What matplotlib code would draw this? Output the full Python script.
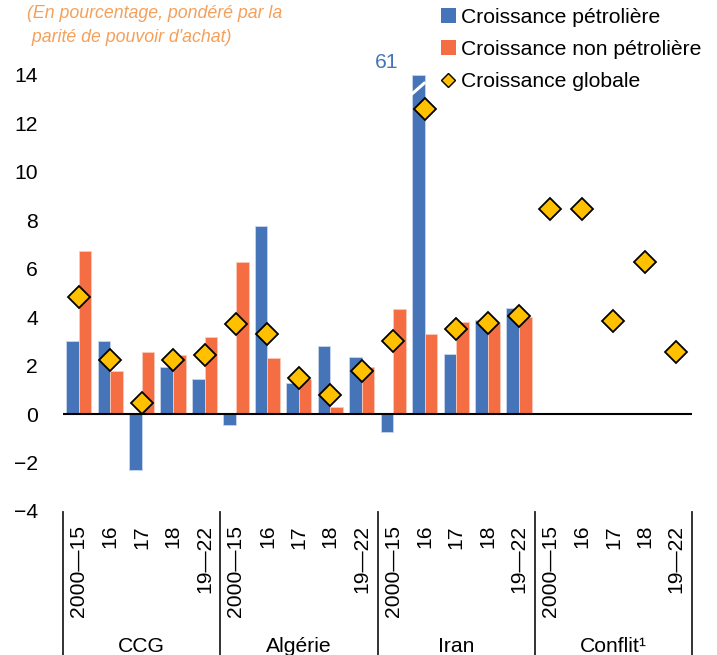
import matplotlib
matplotlib.use("Agg")
import matplotlib.pyplot as plt
from matplotlib.lines import Line2D
from matplotlib.patches import Patch
import matplotlib.transforms as mtransforms

plt.rcParams['font.family'] = ['Liberation Sans', 'DejaVu Sans']

groups = ["CCG", "Algérie", "Iran", "Conflit¹"]
periods = ["2000—15", "16", "17", "18", "19—22"]

oil = [3.0, 3.0, -2.3, 1.96, 1.43,
       -0.47, 7.75, 1.28, 2.8, 2.35,
       -0.75, 61.0, 2.5, 3.9, 4.39,
       None, None, None, None, None]
nonoil = [6.75, 1.79, 2.57, 2.42, 3.2,
          6.3, 2.33, 1.46, 0.29, 1.94,
          4.32, 3.29, 3.79, 3.76, 4.0,
          None, None, None, None, None]
overall = [4.82, 2.22, 0.46, 2.25, 2.43,
           3.71, 3.32, 1.48, 0.78, 1.78,
           3.0, 12.6, 3.5, 3.78, 4.03,
           8.45, 8.45, 3.86, 6.27, 2.57]

YMIN, YMAX = -4, 14
BLUE = "#4674B8"
ORANGE = "#F46D43"
GOLD = "#FFC000"
SUBTITLE_COLOR = "#F5A05A"
FS = 15.2

fig = plt.figure(figsize=(7.17, 6.55), dpi=100)
ax = fig.add_axes([63/717, 1-511/655, (692-63)/717, (511-75)/655])

n = len(overall)
xs = list(range(n))
w = 0.4
for i in xs:
    if oil[i] is not None:
        v = min(oil[i], YMAX)
        ax.bar(i - w/2, v, width=w, color=BLUE, edgecolor="#C9D6EC", linewidth=0.6, zorder=2)
    if nonoil[i] is not None:
        ax.bar(i + w/2, nonoil[i], width=w, color=ORANGE, edgecolor="#FBC9B6", linewidth=0.6, zorder=2)

ax.plot(xs, overall, linestyle="none", marker="D", markersize=11.5, markerfacecolor=GOLD,
        markeredgecolor="black", markeredgewidth=1.3, zorder=4, clip_on=False)

# break mark on clipped bar and its true value
ib = 11
ax.plot([ib - w - 0.02, ib + 0.02], [13.2, 13.7], color="white", linewidth=2.2, zorder=3,
        solid_capstyle="butt")
ax.text(9.8, 14.5, "{:.0f}".format(oil[ib]), color=BLUE, fontsize=FS, ha="center", va="center",
        clip_on=False)

ax.axhline(0, color="black", linewidth=1.5, zorder=3)
ax.set_xlim(-0.5, n - 0.5)
ax.set_ylim(YMIN, YMAX)
ax.set_yticks(range(YMIN, YMAX + 1, 2))
ax.tick_params(axis="y", length=0, pad=18, labelsize=FS)
ax.set_xticks([])
for s in ax.spines.values():
    s.set_visible(False)

# category labels under the axis
trans = mtransforms.blended_transform_factory(ax.transData, fig.transFigure)
for i in xs:
    ax.text(i, 1 - 525/655, periods[i % 5], rotation=90, ha="center", va="top",
            fontsize=FS, transform=trans, clip_on=False)
for g, name in enumerate(groups):
    ax.text(g * 5 + 2, 1 - 646/655, name, ha="center", va="center", fontsize=FS,
            transform=trans, clip_on=False)
for g in range(len(groups) + 1):
    x = g * 5 - 0.5
    ax.add_line(Line2D([x, x], [1 - 512/655, 0], transform=trans, color="#222222",
                       linewidth=1.3, clip_on=False))

# subtitle
fig.text(27/717, 1 - 5/655, "(En pourcentage, pondéré par la\n parité de pouvoir d'achat)",
         ha="left", va="top", fontsize=12.8, style="italic", color=SUBTITLE_COLOR, linespacing=1.5)

handles = [Patch(facecolor=BLUE, edgecolor="none"),
           Patch(facecolor=ORANGE, edgecolor="none"),
           Line2D([], [], linestyle="none", marker="D", markersize=7, markerfacecolor=GOLD,
                  markeredgecolor="black", markeredgewidth=1)]
labels = ["Croissance pétrolière", "Croissance non pétrolière", "Croissance globale"]
fig.legend(handles, labels, loc="upper left", bbox_to_anchor=(441/717, 1 - 8/655),
           frameon=False, fontsize=FS, handlelength=0.7, handleheight=0.7,
           handletextpad=0.25, labelspacing=0.62, borderpad=0, borderaxespad=0)

fig.savefig("out.png", dpi=100)
